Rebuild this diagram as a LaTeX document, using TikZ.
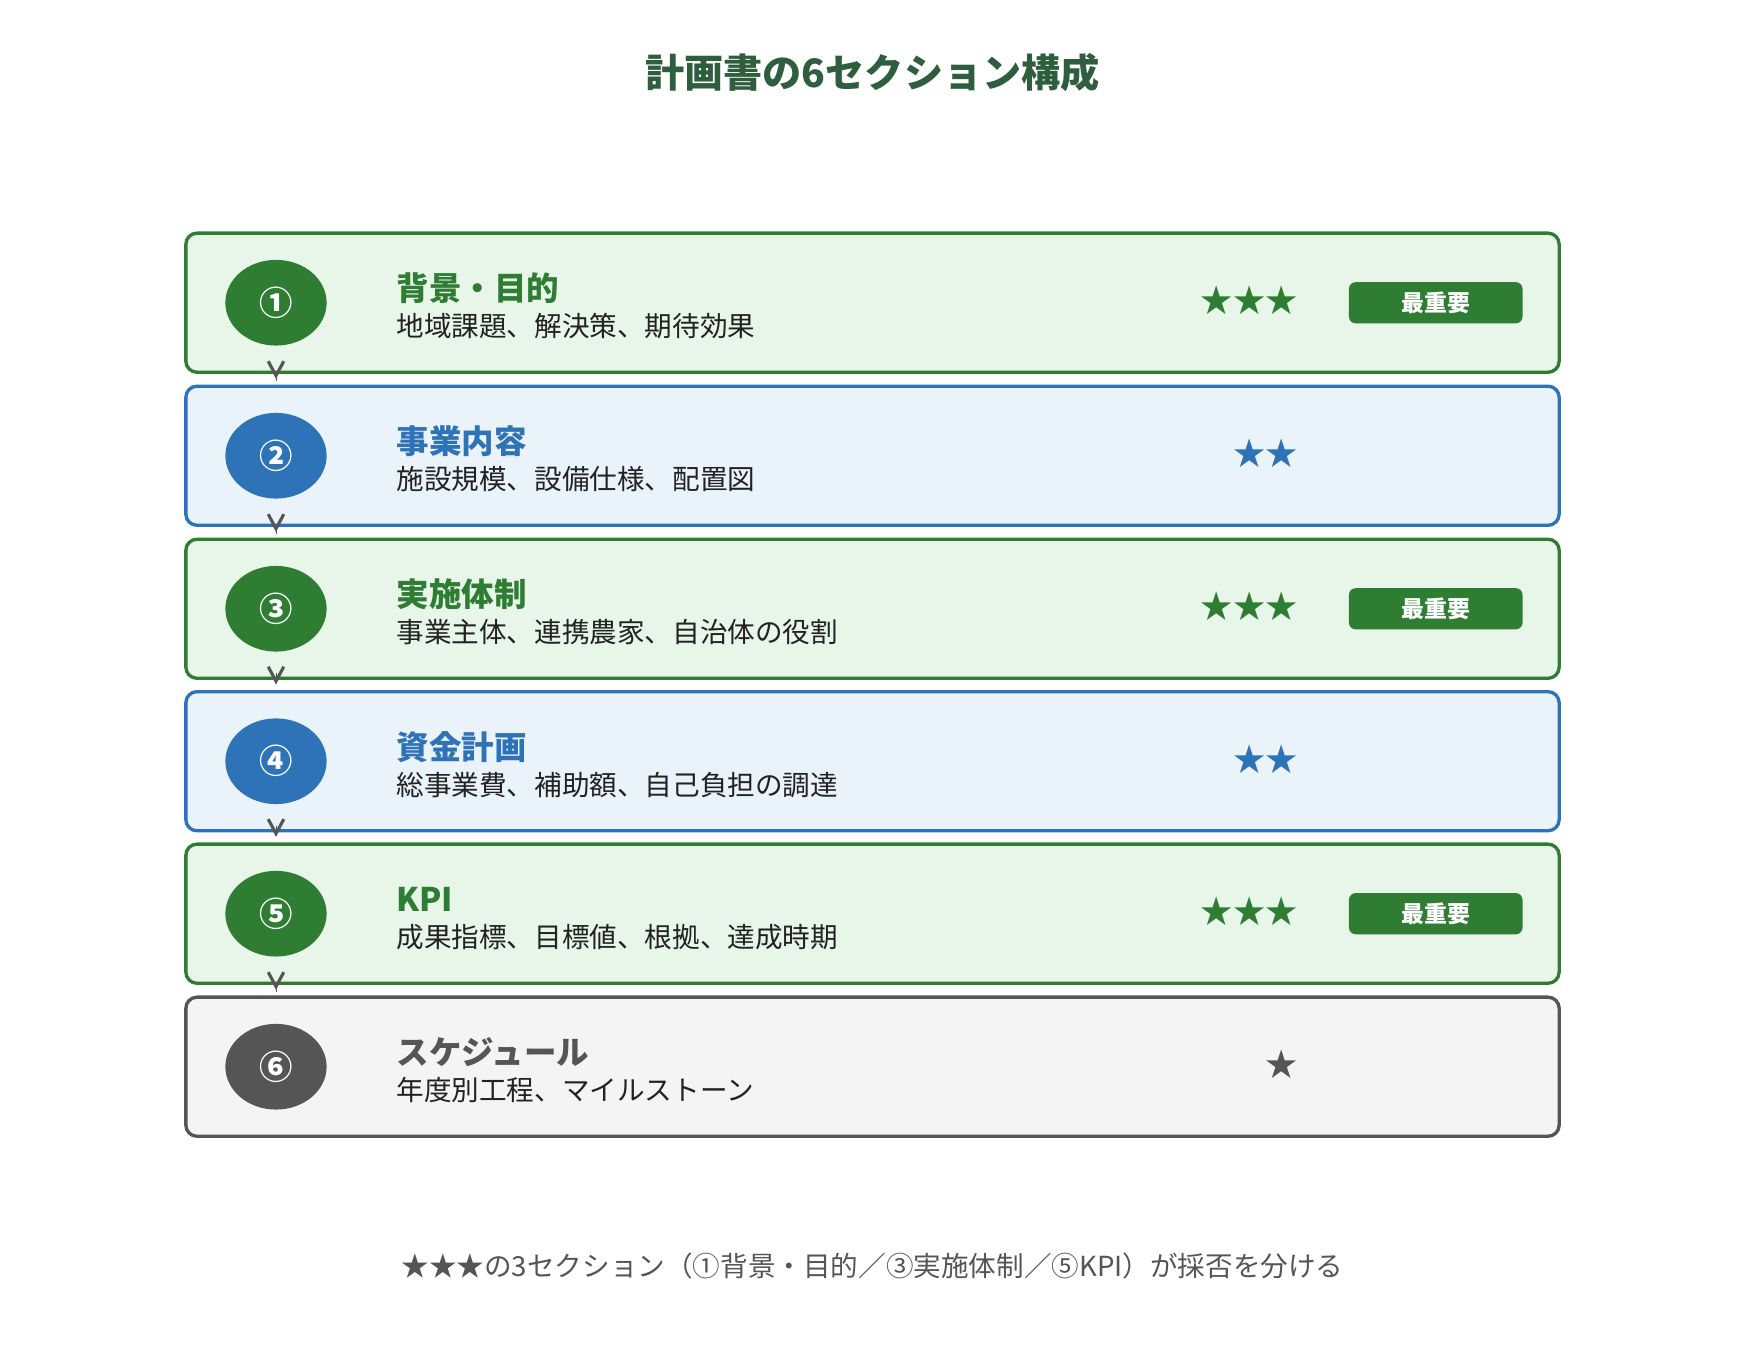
\documentclass[tikz,border=0pt]{standalone}
\usepackage{fontspec}
\setmainfont{Noto Sans CJK JP}
\usetikzlibrary{arrows.meta, positioning, shapes.geometric}

\definecolor{grnline}{HTML}{2E7D32}
\definecolor{grnfill}{HTML}{E8F5E9}
\definecolor{bluline}{HTML}{2E72B8}
\definecolor{blufill}{HTML}{EAF2FA}
\definecolor{gryline}{HTML}{555555}
\definecolor{gryfill}{HTML}{F4F4F4}
\definecolor{ttlgreen}{HTML}{2E5E3E}
\definecolor{subtxt}{HTML}{222222}

\begin{document}
\begin{tikzpicture}[
		x=0.5pt, y=-0.5pt,
		box/.style={draw, rounded corners=5pt, line width=1.5pt, minimum width=617pt, minimum height=62.5pt},
		gbox/.style={box, draw=grnline, fill=grnfill},
		bbox/.style={box, draw=bluline, fill=blufill},
		kbox/.style={box, draw=gryline, fill=gryfill},
		num/.style={ellipse, minimum width=45.5pt, minimum height=38.5pt, inner sep=0pt, text=white, font=\bfseries\fontsize{15}{17}\selectfont},
		head/.style={inner sep=0pt, font=\bfseries\fontsize{14.6}{16}\selectfont},
		sub/.style={inner sep=0pt, text=subtxt, font=\fontsize{12.4}{14}\selectfont},
		stars/.style={inner sep=0pt, font=\fontsize{14.5}{16}\selectfont},
		badge/.style={fill=grnline, rounded corners=3pt, minimum width=78pt, minimum height=18.5pt, inner sep=0pt, text=white, font=\bfseries\fontsize{10.3}{12}\selectfont},
		flow/.style={draw=gryline, shorten <=3pt, shorten >=2.5pt, -{Straight Barb[length=6.5pt,width=7pt,line width=1.4pt]}}
		]
		\useasboundingbox (0,0) rectangle (1568,1212);
		% Title
		\node[text=ttlgreen, font=\bfseries\fontsize{17.6}{20}\selectfont] (ttl) at (784,65) {計画書の6セクション構成};
		
		% Section boxes
		\node[gbox] (b1) at (784,272) {};
		\node[bbox] (b2) at (784,409.5) {};
		\node[gbox] (b3) at (784,547) {};
		\node[bbox] (b4) at (784,684) {};
		\node[gbox] (b5) at (784,821) {};
		\node[kbox] (b6) at (784,958.5) {};
		
		% Numbers
		\node[num, fill=grnline] (n1) at (248,272) {①};
		\node[num, fill=bluline] (n2) at (248,409.5) {②};
		\node[num, fill=grnline] (n3) at (248,547) {③};
		\node[num, fill=bluline] (n4) at (248,684) {④};
		\node[num, fill=grnline] (n5) at (248,821) {⑤};
		\node[num, fill=gryline] (n6) at (248,958.5) {⑥};
		
		% Headings and contents
		\node[head, text=grnline, right = 31pt of n1.east, yshift=6.5pt] (h1) {背景・目的};
		\node[sub, right = 31pt of n1.east, yshift=-10.5pt] (s1) {地域課題、解決策、期待効果};
		\node[head, text=bluline, right = 31pt of n2.east, yshift=6.5pt] (h2) {事業内容};
		\node[sub, right = 31pt of n2.east, yshift=-10.5pt] (s2) {施設規模、設備仕様、配置図};
		\node[head, text=grnline, right = 31pt of n3.east, yshift=6.5pt] (h3) {実施体制};
		\node[sub, right = 31pt of n3.east, yshift=-10.5pt] (s3) {事業主体、連携農家、自治体の役割};
		\node[head, text=bluline, right = 31pt of n4.east, yshift=6.5pt] (h4) {資金計画};
		\node[sub, right = 31pt of n4.east, yshift=-10.5pt] (s4) {総事業費、補助額、自己負担の調達};
		\node[head, text=grnline, right = 31pt of n5.east, yshift=6.5pt] (h5) {KPI};
		\node[sub, right = 31pt of n5.east, yshift=-10.5pt] (s5) {成果指標、目標値、根拠、達成時期};
		\node[head, text=gryline, right = 31pt of n6.east, yshift=6.5pt] (h6) {スケジュール};
		\node[sub, right = 31pt of n6.east, yshift=-10.5pt] (s6) {年度別工程、マイルストーン};
		
		% Importance
		\node[stars, text=grnline, left = 118pt of b1.east, yshift=1pt] (r1) {★★★};
		\node[stars, text=bluline, left = 118pt of b2.east, yshift=1pt] (r2) {★★};
		\node[stars, text=grnline, left = 118pt of b3.east, yshift=1pt] (r3) {★★★};
		\node[stars, text=bluline, left = 118pt of b4.east, yshift=1pt] (r4) {★★};
		\node[stars, text=grnline, left = 118pt of b5.east, yshift=1pt] (r5) {★★★};
		\node[stars, text=gryline, left = 118pt of b6.east, yshift=1pt] (r6) {★};
		
		\node[badge, left = 17pt of b1.east] (k1) {最重要};
		\node[badge, left = 17pt of b3.east] (k3) {最重要};
		\node[badge, left = 17pt of b5.east] (k5) {最重要};
		
		% draw arrows
		\draw[flow] (b1.south -| n1) -- (b2.north -| n2);
		\draw[flow] (b2.south -| n2) -- (b3.north -| n3);
		\draw[flow] (b3.south -| n3) -- (b4.north -| n4);
		\draw[flow] (b4.south -| n4) -- (b5.north -| n5);
		\draw[flow] (b5.south -| n5) -- (b6.north -| n6);
		
		% Note
		\node[text=gryline, font=\fontsize{12.4}{14}\selectfont] (note) at (784,1138) {★★★の3セクション（①背景・目的／③実施体制／⑤KPI）が採否を分ける};
	\end{tikzpicture}
\end{document}
